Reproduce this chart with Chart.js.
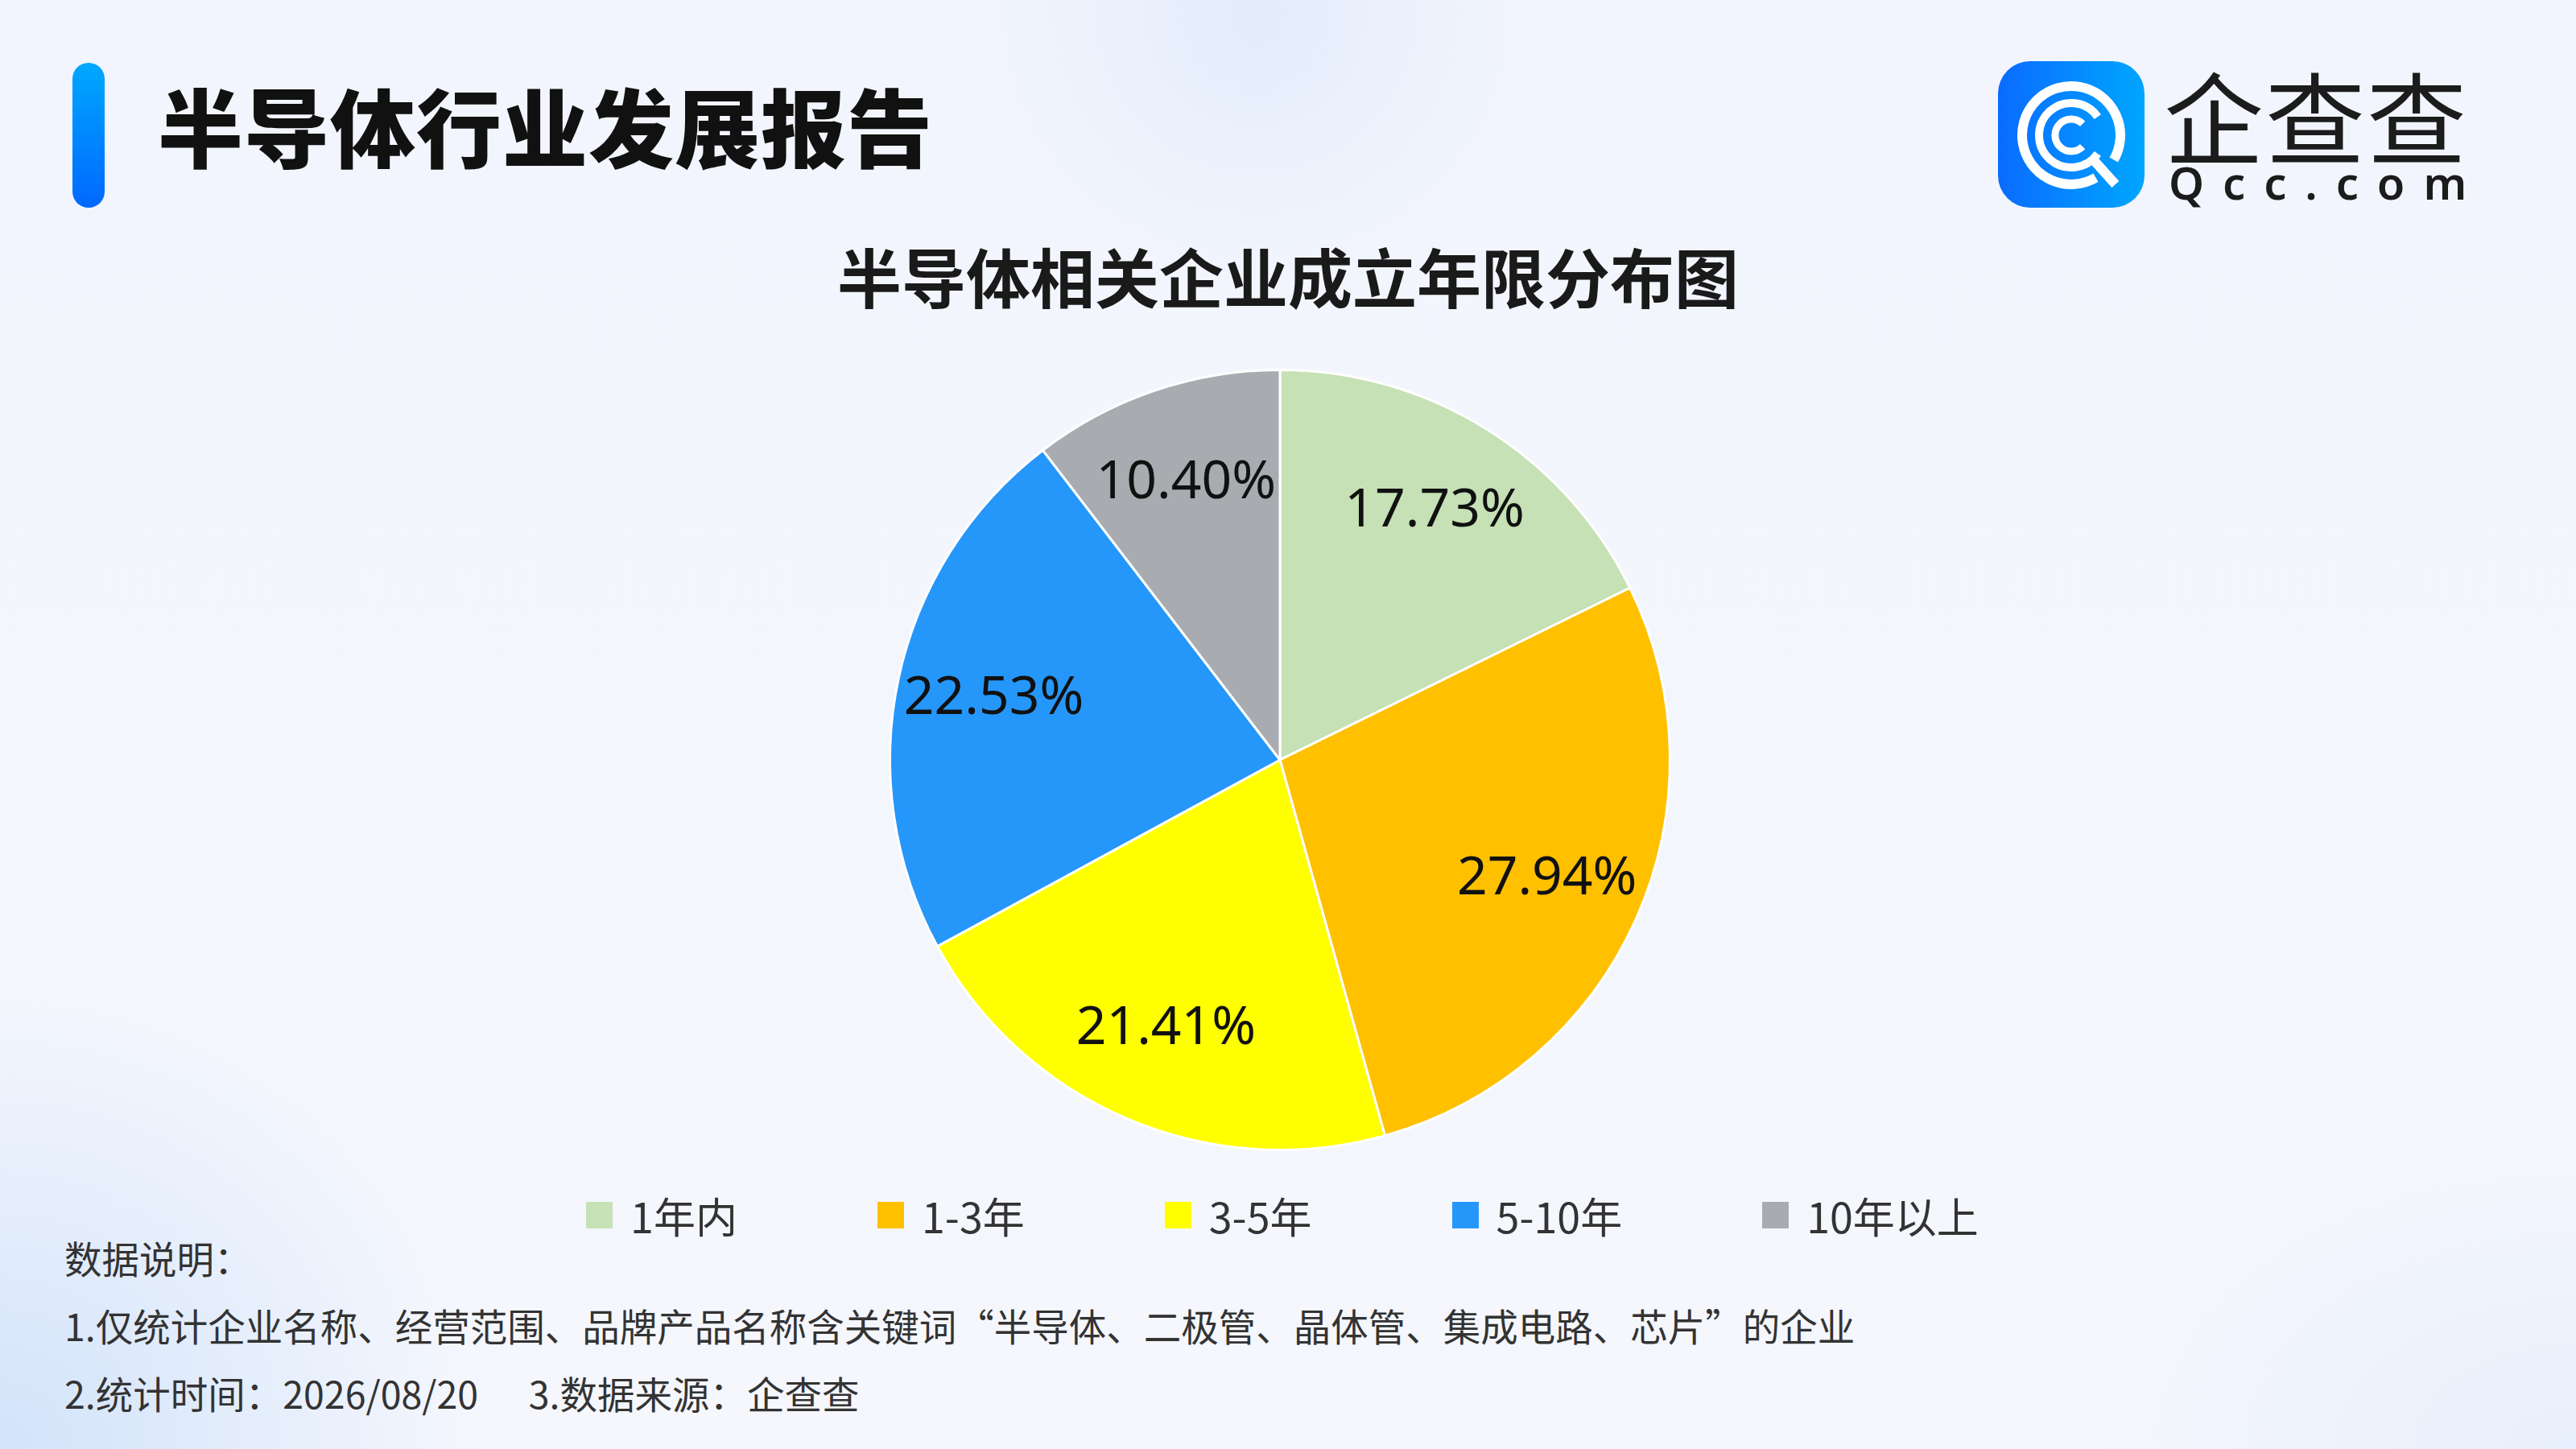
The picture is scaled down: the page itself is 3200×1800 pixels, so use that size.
<!DOCTYPE html>
<html lang="zh-CN">
<head>
<meta charset="utf-8">
<title>半导体行业发展报告</title>
<script src="https://cdn.jsdelivr.net/npm/chart.js@4.4.1/dist/chart.umd.min.js"></script>
<style>
  html, body { margin: 0; padding: 0; }
  body {
    width: 3200px; height: 1800px; overflow: hidden; position: relative;
    font-family: "Noto Sans CJK SC", "Noto Sans", sans-serif;
    background:
      radial-gradient(ellipse 800px 760px at 0% 100%, rgba(208,226,250,0.95), rgba(208,226,250,0) 75%),
      radial-gradient(circle 460px at 1560px 20px, rgba(226,235,251,0.9), rgba(226,235,251,0) 75%),
      radial-gradient(ellipse 800px 500px at 100% 100%, rgba(228,236,251,0.8), rgba(228,236,251,0) 75%),
      linear-gradient(180deg, #F2F5FD 0%, #F5F7FD 100%);
  }
  .bar {
    position: absolute; left: 90px; top: 78px; width: 40px; height: 180px;
    border-radius: 20px;
    background: linear-gradient(180deg, #00A8FF 0%, #0068FF 100%);
  }
  .head {
    position: absolute; left: 196px; top: 85px; margin: 0;
    font-size: 106px; line-height: 138px; font-weight: 900; color: #111;
    letter-spacing: 1px;
  }
  .logo { position: absolute; left: 2482px; top: 76px; }
  .brand {
    position: absolute; left: 2688px; top: 66px;
    font-size: 124px; line-height: 150px; font-weight: 400; color: #1c1c1c;
    letter-spacing: 2px;
  }
  .dom {
    position: absolute; left: 2694px; top: 196px;
    font-family: "Noto Sans", sans-serif; font-size: 56px; line-height: 60px;
    font-weight: 600; color: #1c1c1c; letter-spacing: 23px;
  }
  .ctitle {
    position: absolute; left: 0; top: 293px; width: 3200px; margin: 0;
    text-align: center; font-size: 80px; line-height: 96px; font-weight: bold; color: #1a1a1a;
  }
  #wrap { position: absolute; left: 0; top: 458px; width: 3200px; height: 972px; }
  #legend {
    position: absolute; left: -7px; top: 1472px; width: 3200px;
    display: flex; justify-content: center; align-items: center;
    font-size: 52px; color: #333;
  }
  #legend .item { display: flex; align-items: center; margin: 0 87px; }
  #legend .box { width: 33px; height: 33px; margin-right: 22px; }
  .notes {
    position: absolute; left: 80px; top: 1520px;
    font-size: 46.5px; line-height: 84px; color: #333;
  }
  .notes p { margin: 0; }
</style>
</head>
<body>
<div class="bar"></div>
<h1 class="head">半导体行业发展报告</h1>

<svg class="logo" width="182" height="182" viewBox="0 0 182 182">
  <defs>
    <linearGradient id="lg" x1="0" y1="0" x2="1" y2="0">
      <stop offset="0" stop-color="#0A6BFF"/>
      <stop offset="1" stop-color="#00A6FF"/>
    </linearGradient>
  </defs>
  <rect x="0" y="0" width="182" height="182" rx="40" fill="url(#lg)"/>
  <g fill="none" stroke="#fff" stroke-linecap="butt">
    <path d="M 121.5 144.8 A 61 61 0 1 1 143.8 122.5" stroke-width="12"/>
    <path d="M 119.1 123.2 L 145.9 152.9" stroke-width="12"/>
    <path d="M 123.8 114.9 A 40 40 0 1 1 123.8 69.1" stroke-width="10"/>
    <path d="M 105.1 106.1 A 20 20 0 1 1 105.1 77.9" stroke-width="9"/>
  </g>
</svg>
<div class="brand">企查查</div>
<div class="dom">Qcc.com</div>

<h2 class="ctitle" id="ctitle"></h2>
<div id="wrap"><canvas id="pieChart"></canvas></div>
<div id="legend"></div>

<div class="notes">
  <p>数据说明：</p>
  <p>1.仅统计企业名称、经营范围、品牌产品名称含关键词“半导体、二极管、晶体管、集成电路、芯片”的企业</p>
  <p>2.统计时间：2026/08/20&nbsp;&nbsp;&nbsp;&nbsp;&nbsp;&nbsp;3.数据来源：企查查</p>
</div>

<script>
"use strict"

//数据
const chartTitle = '半导体相关企业成立年限分布图';
const categories = ['1年内', '1-3年', '3-5年', '5-10年', '10年以上'];
const shares = [17.73, 27.94, 21.41, 22.53, 10.40];
const sliceColors = ['#C5E1B5', '#FFC000', '#FFFF00', '#2697FA', '#A8ACB0'];

document.getElementById('ctitle').textContent = chartTitle;

//图例 (html)
const legendEl = document.getElementById('legend');
categories.forEach((name, i) => {
  const item = document.createElement('div');
  item.className = 'item';
  item.innerHTML = '<span class="box" style="background:' + sliceColors[i] + '"></span><span>' + name + '</span>';
  legendEl.appendChild(item);
});

//饼图上的百分比
const sliceLabels = {
  id: 'sliceLabels',
  afterDatasetsDraw(chart) {
    const ctx = chart.ctx;
    const meta = chart.getDatasetMeta(0);
    ctx.save();
    ctx.font = '66px "Noto Sans", sans-serif';
    ctx.fillStyle = '#111';
    ctx.textAlign = 'center';
    ctx.textBaseline = 'middle';
    meta.data.forEach((arc, i) => {
      const p = arc.getProps(['x', 'y', 'startAngle', 'endAngle', 'outerRadius'], true);
      const mid = (p.startAngle + p.endAngle) / 2;
      const r = p.outerRadius * 0.75;
      ctx.fillText(shares[i].toFixed(2) + '%', p.x + Math.cos(mid) * r, p.y + Math.sin(mid) * r);
    });
    ctx.restore();
  }
};

new Chart(document.getElementById('pieChart'), {
  type: 'pie',
  data: {
    labels: categories,
    datasets: [{
      data: shares,
      backgroundColor: sliceColors,
      borderColor: '#ffffff',
      borderWidth: 3,
      hoverOffset: 0
    }]
  },
  options: {
    responsive: true,
    maintainAspectRatio: false,
    devicePixelRatio: 1,
    animation: false,
    layout: { padding: { right: 20 } },
    plugins: {
      legend: { display: false },
      tooltip: { enabled: false },
      title: { display: false }
    }
  },
  plugins: [sliceLabels]
});
</script>
</body>
</html>
